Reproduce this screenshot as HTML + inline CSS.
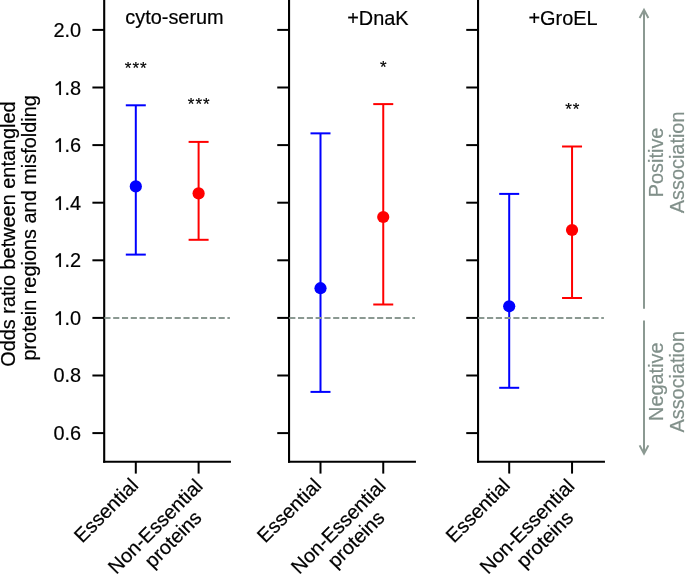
<!DOCTYPE html>
<html><head><meta charset="utf-8"><style>
html,body{margin:0;padding:0;background:#fff;}
svg{display:block;will-change:transform;}
text{font-family:"Liberation Sans",sans-serif;font-size:19.9px;fill:#000;stroke:#000;stroke-width:0.2px;}
</style></head><body>
<svg width="685" height="574" viewBox="0 0 685 574">
<rect width="685" height="574" fill="#fff"/>
<line x1="104.2" y1="-2" x2="104.2" y2="462.85" stroke="#000" stroke-width="2.1"/>
<line x1="103.15" y1="461.8" x2="230.95000000000002" y2="461.8" stroke="#000" stroke-width="2.1"/>
<line x1="92.4" y1="29.90" x2="104.2" y2="29.90" stroke="#000" stroke-width="2"/>
<line x1="92.4" y1="87.50" x2="104.2" y2="87.50" stroke="#000" stroke-width="2"/>
<line x1="92.4" y1="145.10" x2="104.2" y2="145.10" stroke="#000" stroke-width="2"/>
<line x1="92.4" y1="202.70" x2="104.2" y2="202.70" stroke="#000" stroke-width="2"/>
<line x1="92.4" y1="260.30" x2="104.2" y2="260.30" stroke="#000" stroke-width="2"/>
<line x1="92.4" y1="317.90" x2="104.2" y2="317.90" stroke="#000" stroke-width="2"/>
<line x1="92.4" y1="375.50" x2="104.2" y2="375.50" stroke="#000" stroke-width="2"/>
<line x1="92.4" y1="433.10" x2="104.2" y2="433.10" stroke="#000" stroke-width="2"/>
<line x1="135.8" y1="461.8" x2="135.8" y2="473.6" stroke="#000" stroke-width="2"/>
<line x1="198.6" y1="461.8" x2="198.6" y2="473.6" stroke="#000" stroke-width="2"/>
<line x1="135.8" y1="105.3" x2="135.8" y2="254.6" stroke="#0000ff" stroke-width="2.0"/>
<line x1="125.80000000000001" y1="105.3" x2="145.8" y2="105.3" stroke="#0000ff" stroke-width="2.0"/>
<line x1="125.80000000000001" y1="254.6" x2="145.8" y2="254.6" stroke="#0000ff" stroke-width="2.0"/>
<circle cx="135.8" cy="186.4" r="6.1" fill="#0000ff"/>
<line x1="198.6" y1="141.9" x2="198.6" y2="239.8" stroke="#ff0000" stroke-width="2.0"/>
<line x1="188.6" y1="141.9" x2="208.6" y2="141.9" stroke="#ff0000" stroke-width="2.0"/>
<line x1="188.6" y1="239.8" x2="208.6" y2="239.8" stroke="#ff0000" stroke-width="2.0"/>
<circle cx="198.6" cy="193.4" r="6.1" fill="#ff0000"/>
<line x1="104.4" y1="318.0" x2="229.9" y2="318.0" stroke="#8b9992" stroke-width="2" stroke-dasharray="6.13 2.655"/>
<line x1="289.05" y1="-2" x2="289.05" y2="462.85" stroke="#000" stroke-width="2.1"/>
<line x1="288.0" y1="461.8" x2="415.95" y2="461.8" stroke="#000" stroke-width="2.1"/>
<line x1="277.25" y1="29.90" x2="289.05" y2="29.90" stroke="#000" stroke-width="2"/>
<line x1="277.25" y1="87.50" x2="289.05" y2="87.50" stroke="#000" stroke-width="2"/>
<line x1="277.25" y1="145.10" x2="289.05" y2="145.10" stroke="#000" stroke-width="2"/>
<line x1="277.25" y1="202.70" x2="289.05" y2="202.70" stroke="#000" stroke-width="2"/>
<line x1="277.25" y1="260.30" x2="289.05" y2="260.30" stroke="#000" stroke-width="2"/>
<line x1="277.25" y1="317.90" x2="289.05" y2="317.90" stroke="#000" stroke-width="2"/>
<line x1="277.25" y1="375.50" x2="289.05" y2="375.50" stroke="#000" stroke-width="2"/>
<line x1="277.25" y1="433.10" x2="289.05" y2="433.10" stroke="#000" stroke-width="2"/>
<line x1="320.5" y1="461.8" x2="320.5" y2="473.6" stroke="#000" stroke-width="2"/>
<line x1="383.25" y1="461.8" x2="383.25" y2="473.6" stroke="#000" stroke-width="2"/>
<line x1="320.5" y1="133.35" x2="320.5" y2="391.9" stroke="#0000ff" stroke-width="2.0"/>
<line x1="310.5" y1="133.35" x2="330.5" y2="133.35" stroke="#0000ff" stroke-width="2.0"/>
<line x1="310.5" y1="391.9" x2="330.5" y2="391.9" stroke="#0000ff" stroke-width="2.0"/>
<circle cx="320.5" cy="288.2" r="6.1" fill="#0000ff"/>
<line x1="383.25" y1="104.1" x2="383.25" y2="304.5" stroke="#ff0000" stroke-width="2.0"/>
<line x1="373.25" y1="104.1" x2="393.25" y2="104.1" stroke="#ff0000" stroke-width="2.0"/>
<line x1="373.25" y1="304.5" x2="393.25" y2="304.5" stroke="#ff0000" stroke-width="2.0"/>
<circle cx="383.25" cy="217.0" r="6.1" fill="#ff0000"/>
<line x1="289.25" y1="318.0" x2="414.9" y2="318.0" stroke="#8b9992" stroke-width="2" stroke-dasharray="6.13 2.655"/>
<line x1="478.05" y1="-2" x2="478.05" y2="462.85" stroke="#000" stroke-width="2.1"/>
<line x1="477.0" y1="461.8" x2="604.9499999999999" y2="461.8" stroke="#000" stroke-width="2.1"/>
<line x1="466.25" y1="29.90" x2="478.05" y2="29.90" stroke="#000" stroke-width="2"/>
<line x1="466.25" y1="87.50" x2="478.05" y2="87.50" stroke="#000" stroke-width="2"/>
<line x1="466.25" y1="145.10" x2="478.05" y2="145.10" stroke="#000" stroke-width="2"/>
<line x1="466.25" y1="202.70" x2="478.05" y2="202.70" stroke="#000" stroke-width="2"/>
<line x1="466.25" y1="260.30" x2="478.05" y2="260.30" stroke="#000" stroke-width="2"/>
<line x1="466.25" y1="317.90" x2="478.05" y2="317.90" stroke="#000" stroke-width="2"/>
<line x1="466.25" y1="375.50" x2="478.05" y2="375.50" stroke="#000" stroke-width="2"/>
<line x1="466.25" y1="433.10" x2="478.05" y2="433.10" stroke="#000" stroke-width="2"/>
<line x1="509.2" y1="461.8" x2="509.2" y2="473.6" stroke="#000" stroke-width="2"/>
<line x1="572.05" y1="461.8" x2="572.05" y2="473.6" stroke="#000" stroke-width="2"/>
<line x1="509.2" y1="193.9" x2="509.2" y2="387.8" stroke="#0000ff" stroke-width="2.0"/>
<line x1="499.2" y1="193.9" x2="519.2" y2="193.9" stroke="#0000ff" stroke-width="2.0"/>
<line x1="499.2" y1="387.8" x2="519.2" y2="387.8" stroke="#0000ff" stroke-width="2.0"/>
<circle cx="509.2" cy="306.3" r="6.1" fill="#0000ff"/>
<line x1="572.05" y1="146.5" x2="572.05" y2="298.0" stroke="#ff0000" stroke-width="2.0"/>
<line x1="562.05" y1="146.5" x2="582.05" y2="146.5" stroke="#ff0000" stroke-width="2.0"/>
<line x1="562.05" y1="298.0" x2="582.05" y2="298.0" stroke="#ff0000" stroke-width="2.0"/>
<circle cx="572.05" cy="230.0" r="6.1" fill="#ff0000"/>
<line x1="478.25" y1="318.0" x2="603.9" y2="318.0" stroke="#8b9992" stroke-width="2" stroke-dasharray="6.13 2.655"/>
<text x="81.2" y="37.00" text-anchor="end">2.0</text>
<path d="M763 0L583 0L583 1147L520 1090L400 1015L223 935L223 1109L360 1180L500 1290L586 1409L763 1409Z" transform="translate(53.536,95.00) scale(0.009717,-0.009717)" fill="#000" stroke="#000" stroke-width="10.3"/>
<text x="81.2" y="95.00" text-anchor="end">.8</text>
<path d="M763 0L583 0L583 1147L520 1090L400 1015L223 935L223 1109L360 1180L500 1290L586 1409L763 1409Z" transform="translate(53.536,152.00) scale(0.009717,-0.009717)" fill="#000" stroke="#000" stroke-width="10.3"/>
<text x="81.2" y="152.00" text-anchor="end">.6</text>
<path d="M763 0L583 0L583 1147L520 1090L400 1015L223 935L223 1109L360 1180L500 1290L586 1409L763 1409Z" transform="translate(53.536,210.00) scale(0.009717,-0.009717)" fill="#000" stroke="#000" stroke-width="10.3"/>
<text x="81.2" y="210.00" text-anchor="end">.4</text>
<path d="M763 0L583 0L583 1147L520 1090L400 1015L223 935L223 1109L360 1180L500 1290L586 1409L763 1409Z" transform="translate(53.536,267.00) scale(0.009717,-0.009717)" fill="#000" stroke="#000" stroke-width="10.3"/>
<text x="81.2" y="267.00" text-anchor="end">.2</text>
<path d="M763 0L583 0L583 1147L520 1090L400 1015L223 935L223 1109L360 1180L500 1290L586 1409L763 1409Z" transform="translate(53.536,325.00) scale(0.009717,-0.009717)" fill="#000" stroke="#000" stroke-width="10.3"/>
<text x="81.2" y="325.00" text-anchor="end">.0</text>
<text x="81.2" y="382.00" text-anchor="end">0.8</text>
<text x="81.2" y="440.00" text-anchor="end">0.6</text>
<text x="223.7" y="24" text-anchor="end">cyto-serum</text>
<text x="408.6" y="25" text-anchor="end">+DnaK</text>
<text x="597.6" y="25" text-anchor="end">+GroEL</text>
<text x="136.25" y="73.70" text-anchor="middle" style="font-size:17px;letter-spacing:1.0px">***</text>
<text x="199.25" y="109.70" text-anchor="middle" style="font-size:17px;letter-spacing:1.0px">***</text>
<text x="383.85" y="72.60" text-anchor="middle" style="font-size:17px;letter-spacing:1.0px">*</text>
<text x="572.75" y="114.70" text-anchor="middle" style="font-size:17px;letter-spacing:1.0px">**</text>
<text transform="translate(15,366.75) rotate(-90)">Odds ratio between entangled</text>
<text transform="translate(36,360.6) rotate(-90)">protein regions and misfolding</text>
<text transform="translate(82.34,543.76) rotate(-45)">Essential</text>
<text transform="translate(116.30,574.90) rotate(-45)">Non-Essential</text>
<text transform="translate(152.81,569.08) rotate(-45)">proteins</text>
<text transform="translate(265.29,543.76) rotate(-45)">Essential</text>
<text transform="translate(299.25,574.90) rotate(-45)">Non-Essential</text>
<text transform="translate(335.76,569.08) rotate(-45)">proteins</text>
<text transform="translate(454.08,543.76) rotate(-45)">Essential</text>
<text transform="translate(488.04,574.90) rotate(-45)">Non-Essential</text>
<text transform="translate(524.55,569.08) rotate(-45)">proteins</text>
<g stroke="#8b9992" stroke-width="2" fill="none" stroke-linecap="butt">
<line x1="644" y1="308.7" x2="644" y2="10"/>
<polyline points="639.6,17.9 644,9.8 648.4,17.9" stroke-linejoin="miter"/>
<line x1="644" y1="320.6" x2="644" y2="453.5"/>
<polyline points="639.6,445.4 644,453.6 648.4,445.4"/>
</g>
<text transform="translate(663,162.4) rotate(-90)" text-anchor="middle" style="fill:#81908a;stroke:#81908a">Positive</text>
<text transform="translate(684,162.4) rotate(-90)" text-anchor="middle" style="fill:#81908a;stroke:#81908a">Association</text>
<text transform="translate(663,381.7) rotate(-90)" text-anchor="middle" style="fill:#81908a;stroke:#81908a">Negative</text>
<text transform="translate(684,381.7) rotate(-90)" text-anchor="middle" style="fill:#81908a;stroke:#81908a">Association</text>
</svg>
</body></html>
